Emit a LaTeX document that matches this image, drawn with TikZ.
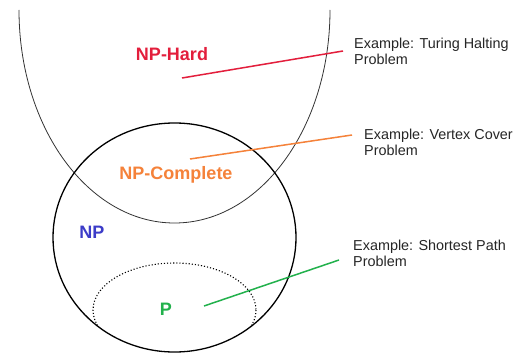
\documentclass[tikz,border=0pt]{standalone}
\usepackage{fontspec}
\setmainfont{Liberation Sans}
\definecolor{hardred}{HTML}{E31E3C}
\definecolor{comporange}{HTML}{F5823A}
\definecolor{npblue}{HTML}{3C3CC8}
\definecolor{pgreen}{HTML}{22B14C}
\tikzset{
  setlabel/.style={font=\fontsize{18}{20}\selectfont\bfseries, inner sep=0pt},
  example/.style={font=\fontsize{14.4}{16}\selectfont, align=left, anchor=base west, inner sep=0pt, text=black!85},
  pointer/.style={line width=1.5pt},
}
\begin{document}
\begin{tikzpicture}[x=1pt,y=-1pt]
\path[use as bounding box, fill=white] (0,0) rectangle (521,353);
% NP-Hard region (open at top)
\draw[line width=0.8pt, black!80] (19,10) arc[start angle=180, end angle=0, x radius=155.5, y radius=213];
% NP circle
\draw[line width=1.3pt] (174.5,237.5) ellipse [x radius=121.5, y radius=114.5];
% P region, dotted, inside NP
\begin{scope}
\clip (174.5,237.5) ellipse [x radius=121, y radius=114];
\draw[line width=1.1pt, dotted] (174.5,310) ellipse [x radius=81.5, y radius=47];
\end{scope}
% labels
\node[setlabel, text=hardred] (hard) at (172,54) {NP-Hard};
\node[setlabel, text=comporange] (comp) at (176,175) {NP-Complete};
\node[setlabel, text=npblue] (np) at (92,232) {NP};
\node[setlabel, text=pgreen] (p) at (166,309) {P};
% examples (anchor = baseline of the last line)
\node[example] (exh) at (354,64) {Example: Turing Halting\\Problem};
\node[example] (exc) at (364,155.5) {Example: Vertex Cover\\Problem};
\node[example] (exp) at (353,266) {Example: Shortest Path\\Problem};
% pointers
\coordinate (h1) at (182,78);  \coordinate (h2) at (343,51);
\coordinate (c1) at (190,159); \coordinate (c2) at (352,135);
\coordinate (p1) at (204,306); \coordinate (p2) at (339,260);
\draw[pointer, hardred] (h1) -- (h2);
\draw[pointer, comporange] (c1) -- (c2);
\draw[pointer, pgreen] (p1) -- (p2);
\end{tikzpicture}
\end{document}
